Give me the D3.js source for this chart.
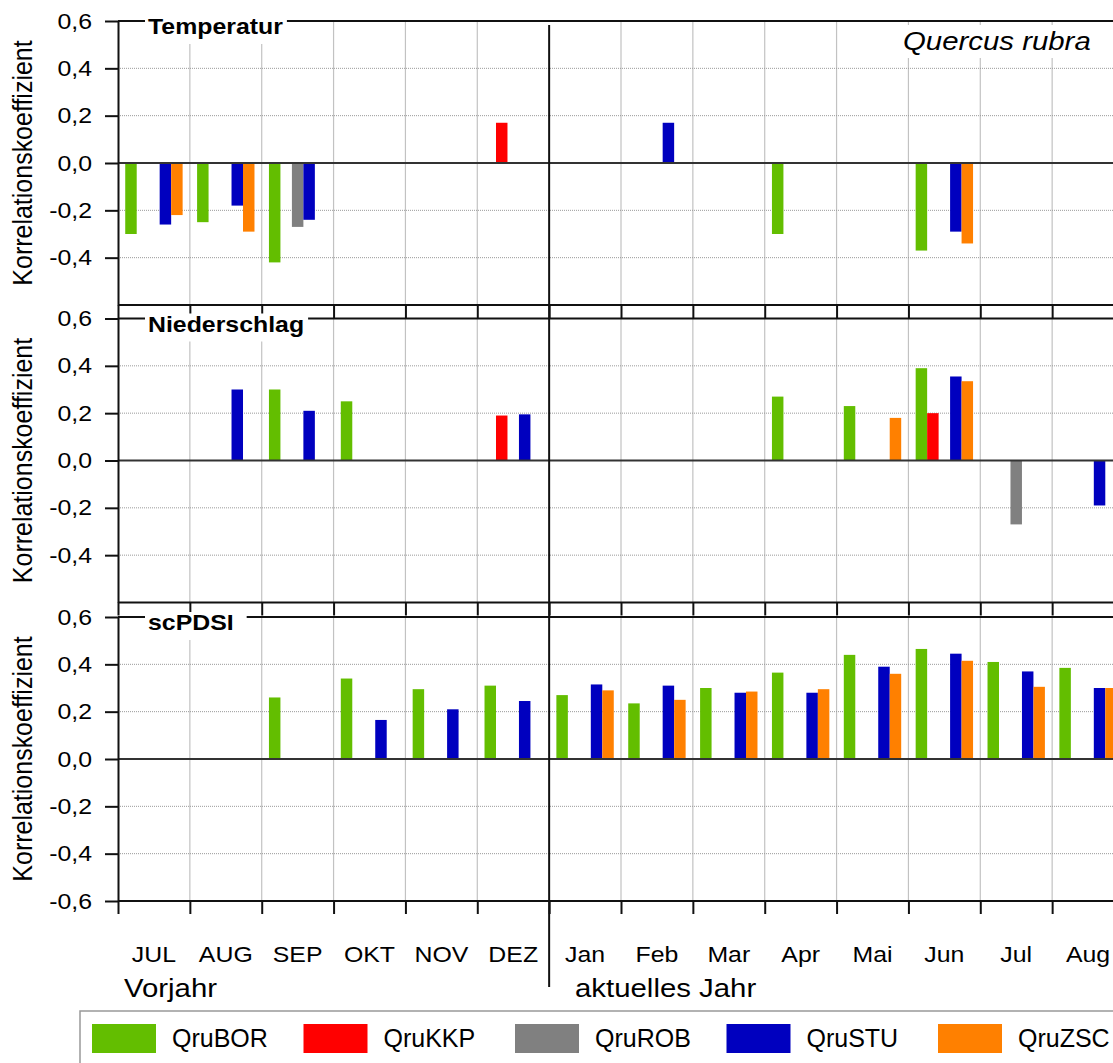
<!DOCTYPE html>
<html>
<head>
<meta charset="utf-8">
<script src="https://cdn.jsdelivr.net/npm/d3@7"></script>
<style>
  body { margin: 0; background: #fff; }
  svg { display: block; font-family: "Liberation Sans", Arial, sans-serif; }
</style>
</head>
<body>
<svg id="chart"></svg>
<script>
// months: previous year (caps) then current year
const months = ["JUL", "AUG", "SEP", "OKT", "NOV", "DEZ", "Jan", "Feb", "Mar", "Apr", "Mai", "Jun", "Jul", "Aug"];
const seriesNames = ["QruBOR", "QruKKP", "QruROB", "QruSTU", "QruZSC"];
const seriesColors = ["#63be00", "#ff0000", "#808080", "#0000bf", "#ff8000"];
const yTicks = [0.6, 0.4, 0.2, 0, -0.2, -0.4, -0.6];

// Temperatur
const tempBOR = [-0.30, -0.25, -0.42, null, null, null, null, null, null, -0.30, null, -0.37, null, null];
const tempKKP = [null, null, null, null, null, 0.17, null, null, null, null, null, null, null, null];
const tempROB = [null, null, -0.27, null, null, null, null, null, null, null, null, null, null, null];
const tempSTU = [-0.26, -0.18, -0.24, null, null, null, null, 0.17, null, null, null, -0.29, null, null];
const tempZSC = [-0.22, -0.29, null, null, null, null, null, null, null, null, null, -0.34, null, null];

// Niederschlag
const precBOR = [null, null, 0.30, 0.25, null, null, null, null, null, 0.27, 0.23, 0.39, null, null];
const precKKP = [null, null, null, null, null, 0.19, null, null, null, null, null, 0.20, null, null];
const precROB = [null, null, null, null, null, null, null, null, null, null, null, null, -0.27, null];
const precSTU = [null, 0.30, 0.21, null, null, 0.195, null, null, null, null, null, 0.355, null, -0.19];
const precZSC = [null, null, null, null, null, null, null, null, null, null, 0.18, 0.335, null, null];

// scPDSI
const pdsiBOR = [null, null, 0.26, 0.34, 0.295, 0.31, 0.27, 0.235, 0.30, 0.365, 0.44, 0.465, 0.41, 0.385];
const pdsiKKP = [null, null, null, null, null, null, null, null, null, null, null, null, null, null];
const pdsiROB = [null, null, null, null, null, null, null, null, null, null, null, null, null, null];
const pdsiSTU = [null, null, null, 0.165, 0.21, 0.245, 0.315, 0.31, 0.28, 0.28, 0.39, 0.445, 0.37, 0.30];
const pdsiZSC = [null, null, null, null, null, null, 0.29, 0.25, 0.285, 0.295, 0.36, 0.415, 0.305, 0.30];

const panels = [
    { title: "Temperatur", values: [tempBOR, tempKKP, tempROB, tempSTU, tempZSC] },
    { title: "Niederschlag", values: [precBOR, precKKP, precROB, precSTU, precZSC] },
    { title: "scPDSI", values: [pdsiBOR, pdsiKKP, pdsiROB, pdsiSTU, pdsiZSC] }
];

const W = 1113, H = 1063;
const plotLeft = 118, plotRight = 1124;
const panelH = 284;
const panelTops = [21, 318.5, 617];
const sx = 1.13; // lettering in the original is a bit wide

const svg = d3.select("#chart").attr("width", W).attr("height", H);

const x0 = d3.scaleBand().domain(months).range([plotLeft, plotRight]);
const x1 = d3.scaleBand().domain(seriesNames).range([0, x0.bandwidth()]).paddingOuter(0.63);
const xEdges = d3.scaleLinear([0, months.length], [plotLeft, plotRight]);
const color = d3.scaleOrdinal(seriesNames, seriesColors);
const fmt = v => d3.format(".1f")(v).replace(".", ",").replace("\u2212", "-");

panels.forEach((p, i) => {
    const top = panelTops[i], bottom = top + panelH;
    const y = d3.scaleLinear([-0.6, 0.6], [bottom, top]);
    const g = svg.append("g");

    // vertical grid at month boundaries
    g.selectAll(".vgrid")
        .data(months.slice(1).filter(m => m !== "Jan"))
        .join("line")
        .attr("x1", d => x0(d)).attr("x2", d => x0(d))
        .attr("y1", top).attr("y2", bottom)
        .attr("stroke", "#c2c2c2")
        .attr("stroke-width", 1.2);

    // dotted horizontal grid
    g.selectAll(".hgrid")
        .data([0.4, 0.2, -0.2, -0.4])
        .join("line")
        .attr("x1", plotLeft).attr("x2", W)
        .attr("y1", d => y(d)).attr("y2", d => y(d))
        .attr("stroke", "#9a9a9a")
        .attr("stroke-dasharray", "1,1")
        .attr("stroke-width", 1);

    // bars
    p.values.forEach((vals, s) => {
        const name = seriesNames[s];
        const data = months.map((m, k) => ({ m: m, v: vals[k] })).filter(d => d.v != null);
        g.selectAll(null)
            .data(data)
            .join("rect")
            .attr("x", d => x0(d.m) + x1(name))
            .attr("width", x1.bandwidth())
            .attr("y", d => y(Math.max(0, d.v)))
            .attr("height", d => Math.abs(y(d.v) - y(0)))
            .attr("fill", color(name));
    });

    // zero line
    g.append("line")
        .attr("x1", plotLeft).attr("x2", W)
        .attr("y1", y(0)).attr("y2", y(0))
        .attr("stroke", "#333")
        .attr("stroke-width", 2);

    // frame top / bottom
    [top, bottom].forEach(yy => {
        g.append("line")
            .attr("x1", plotLeft).attr("x2", W)
            .attr("y1", yy).attr("y2", yy)
            .attr("stroke", "#111")
            .attr("stroke-width", 2);
    });

    // ticks below the panel at month boundaries
    const xAxis = d3.axisBottom(xEdges)
        .tickValues(d3.range(0, months.length + 1))
        .tickSize(13)
        .tickSizeOuter(0)
        .tickFormat("");
    g.append("g")
        .attr("transform", `translate(0,${bottom})`)
        .call(xAxis)
        .call(a => a.select(".domain").remove())
        .call(a => a.selectAll("line").attr("stroke", "#111").attr("stroke-width", 2));

    // y axis
    const yAxis = d3.axisLeft(y)
        .tickValues(i === 2 ? yTicks : yTicks.slice(0, -1))
        .tickSize(13)
        .tickSizeOuter(0)
        .tickPadding(10)
        .tickFormat(fmt);
    g.append("g")
        .attr("transform", `translate(${plotLeft},0)`)
        .call(yAxis)
        .call(a => a.select(".domain").attr("stroke", "#111").attr("stroke-width", 2))
        .call(a => a.selectAll("line").attr("stroke", "#111").attr("stroke-width", 2))
        .call(a => a.selectAll("text")
            .attr("font-size", 22)
            .attr("fill", "#000")
            .attr("transform", `scale(${sx},1)`));

    // y label
    g.append("text")
        .attr("transform", `translate(32,${(top + bottom) / 2}) scale(${sx},1) rotate(-90)`)
        .attr("text-anchor", "middle")
        .attr("font-size", 25)
        .text("Korrelationskoeffizient");

    // panel title on a white patch
    const titleBox = g.append("rect").attr("fill", "#fff");
    const title = g.append("text")
        .attr("transform", `translate(148,${top + 13}) scale(${sx},1)`)
        .attr("font-size", 22)
        .attr("font-weight", "bold")
        .text(p.title);
    const tw = title.node().getComputedTextLength() * sx;
    titleBox
        .attr("x", 145).attr("y", top - 5)
        .attr("width", tw + (i === 2 ? 16 : 7)).attr("height", 28);
});

// divider between previous and current year
svg.append("line")
    .attr("x1", x0("Jan")).attr("x2", x0("Jan"))
    .attr("y1", 25).attr("y2", 987)
    .attr("stroke", "#111")
    .attr("stroke-width", 2);

// species label
svg.append("rect")
    .attr("x", 899).attr("y", 25).attr("width", 198).attr("height", 33)
    .attr("fill", "#fff");
svg.append("text")
    .attr("transform", `translate(903,50) scale(${sx},1)`)
    .attr("font-size", 26)
    .attr("font-style", "italic")
    .text("Quercus rubra");

// month labels
const lastBottom = panelTops[2] + panelH;
svg.append("g")
    .attr("transform", `translate(0,${lastBottom})`)
    .call(d3.axisBottom(x0).tickSize(0).tickPadding(45))
    .call(a => a.select(".domain").remove())
    .call(a => a.selectAll("text")
        .attr("font-size", 22)
        .attr("fill", "#000")
        .attr("transform", `scale(${sx},1)`));

svg.append("text")
    .attr("transform", `translate(124,997) scale(${sx},1)`)
    .attr("font-size", 26)
    .text("Vorjahr");
svg.append("text")
    .attr("transform", `translate(575,997) scale(${sx},1)`)
    .attr("font-size", 26)
    .text("aktuelles Jahr");

// legend
const legend = svg.append("g");
legend.append("rect")
    .attr("x", 80).attr("y", 1011)
    .attr("width", 1100).attr("height", 80)
    .attr("fill", "#fff")
    .attr("stroke", "#999")
    .attr("stroke-width", 1.5);
const item = legend.selectAll(".item")
    .data(seriesNames)
    .join("g")
    .attr("transform", (d, k) => `translate(${92 + k * 211.5},1024)`);
item.append("rect")
    .attr("width", 64).attr("height", 29)
    .attr("fill", d => color(d));
item.append("text")
    .attr("x", 80).attr("y", 23)
    .attr("font-size", 25)
    .text(d => d);
</script>
</body>
</html>
